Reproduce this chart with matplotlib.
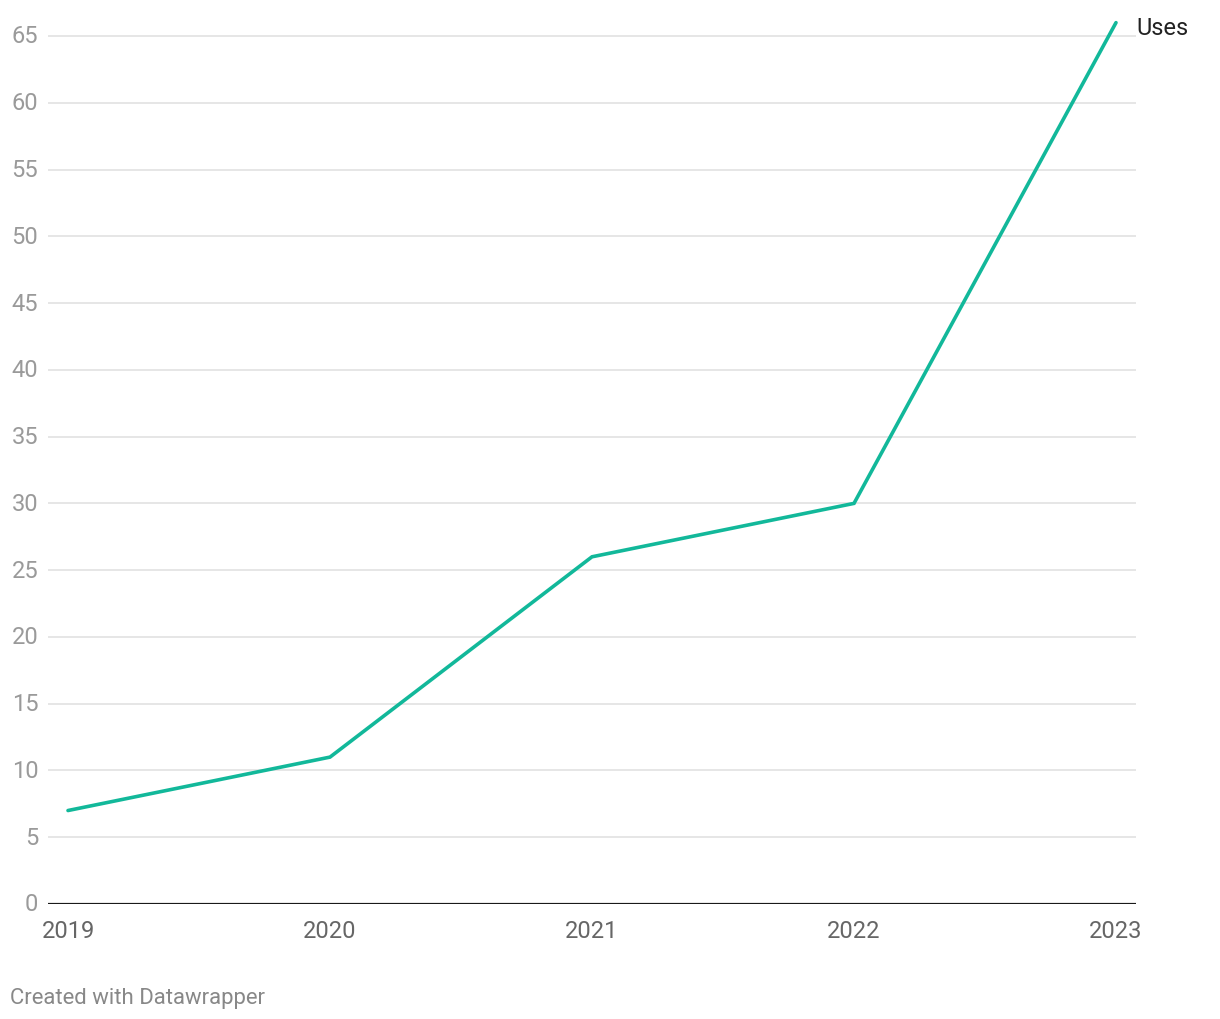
import matplotlib
matplotlib.use("Agg")
import matplotlib.pyplot as plt

plt.rcParams['font.family'] = ['Roboto', 'DejaVu Sans']

years = [2019, 2020, 2021, 2022, 2023]
uses = [7, 11, 26, 30, 66]
y_ticks = list(range(0, 70, 5))
series_name = "Uses"

fig = plt.figure(figsize=(12.2, 10.2), dpi=100)
ax = fig.add_axes([48 / 1220, 115 / 1020, (1136 - 48) / 1220, (905 - 17) / 1020])

ax.plot(years, uses, color='#12b89a', linewidth=2.6, solid_capstyle='round',
        solid_joinstyle='miter', zorder=3)

ax.set_xlim(2019 - 20 / 262, 2023 + 20 / 262)
ax.set_ylim(0, 888 / (868 / 65))

ax.set_yticks(y_ticks)
ax.set_yticklabels([str(v) for v in y_ticks])
ax.set_xticks(years)
ax.set_xticklabels([str(y) for y in years])

for v in y_ticks[1:]:
    ax.axhline(v, color='#e2e2e2', linewidth=1.2, zorder=1)
ax.axhline(0, color='#1a1a1a', linewidth=2.3, zorder=2)

for s in ax.spines.values():
    s.set_visible(False)

ax.tick_params(axis='y', length=0, pad=7, labelsize=17, labelcolor='#9a9a9a')
ax.tick_params(axis='x', length=0, pad=10.5, labelsize=17, labelcolor='#666666')
for lbl in ax.get_yticklabels():
    lbl.set_verticalalignment('center')

ax.annotate(series_name, xy=(years[-1], uses[-1]), xytext=(15, -3.5),
            textcoords='offset points', ha='left', va='center',
            fontsize=17, color='#222222')

fig.text(10 / 1220, 1 - 999 / 1020, "Created with Datawrapper", ha='left', va='center',
         fontsize=15.9, color='#888888')

fig.savefig("out.png", dpi=100)
